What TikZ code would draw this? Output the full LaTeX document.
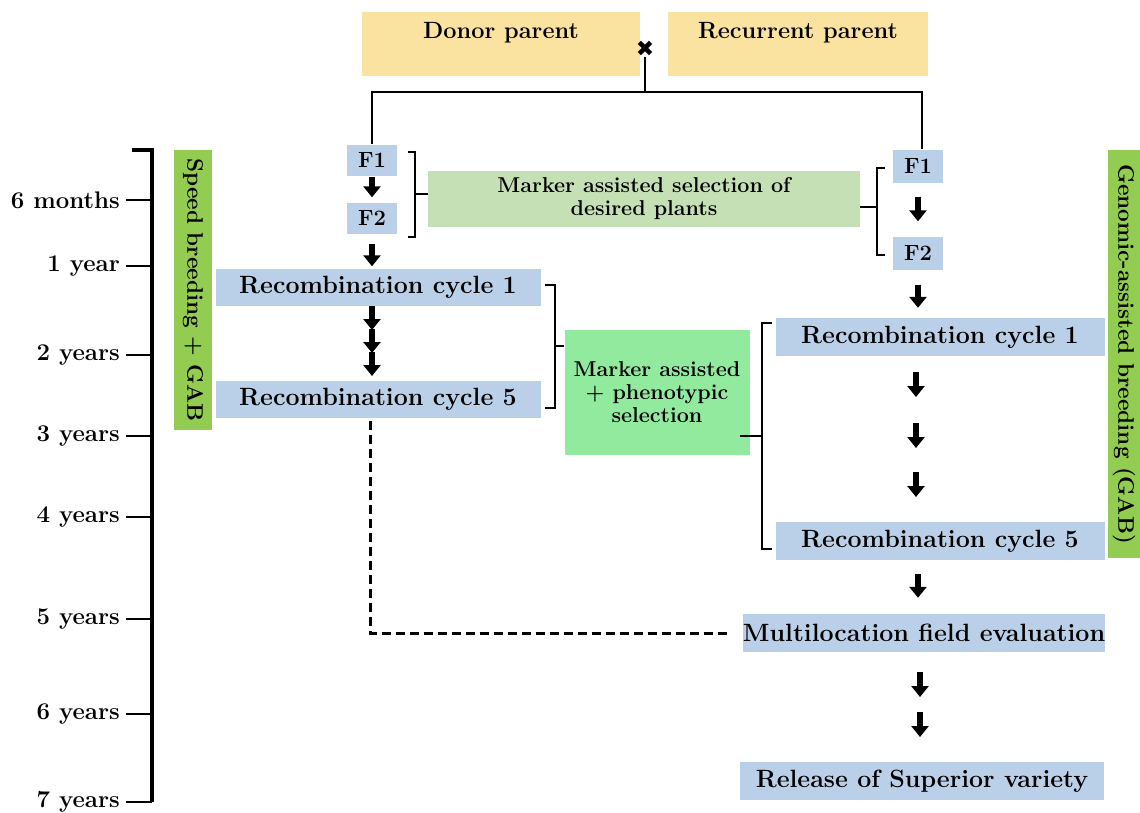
\documentclass[tikz,border=0pt]{standalone}
\usepackage{fontspec}
\usepackage{amsmath, amssymb, bm}
\usepackage{tikz}
\usetikzlibrary{arrows.meta}

\newfontfamily\symbfont{DejaVu Sans}

\definecolor{stageblue}{RGB}{186,208,232}
\definecolor{parentyellow}{RGB}{250,226,160}
\definecolor{palegreen}{RGB}{197,224,180}
\definecolor{mintgreen}{RGB}{146,234,158}
\definecolor{limegreen}{RGB}{146,204,80}

\tikzset{
  stage/.style={fill=stageblue, minimum height=37pt, inner sep=0pt,
    font=\fontsize{25}{28}\selectfont\bfseries},
  gen/.style={fill=stageblue, minimum width=50pt, minimum height=31pt, inner sep=0pt,
    font=\fontsize{22}{24}\selectfont\bfseries},
  parentbox/.style={fill=parentyellow, anchor=north, minimum width=270pt, minimum height=64pt,
    inner xsep=0pt, inner ysep=5pt, text height=21pt, text depth=33pt,
    font=\fontsize{23.5}{26}\selectfont\bfseries},
  selbox/.style={align=center, inner sep=0pt, font=\fontsize{21.5}{23}\selectfont\bfseries},
  sidebox/.style={fill=limegreen, rotate=-90, inner sep=0pt,
    font=\fontsize{22.5}{26}\selectfont\bfseries},
  yearlabel/.style={anchor=east, inner sep=0pt, font=\fontsize{24}{26}\selectfont\bfseries},
  blockarrow/.style={line width=6.5pt, -{Triangle[width=17pt,length=11pt]}},
  brace/.style={line width=1.8pt},
}

\begin{document}
\begin{tikzpicture}[x=1pt, y=-1pt]
        \useasboundingbox (0,0) rectangle (1140,812);

        % parents
        \node[parentbox, minimum width=278pt] (donor) at (501,12) {Donor parent};
        \node[parentbox, minimum width=260pt] (recurrent) at (798,12) {Recurrent parent};
        \node[inner sep=0pt, font=\fontsize{22}{24}\symbfont] (cross) at (645,49) {✖};
        \coordinate (join) at (645,92);

        % timeline
        \draw[line width=4pt] (132,150) -- (152,150) -- (152,802);
        \foreach \y/\lab in {200/6 months, 266/1 year, 355/2 years, 436/3 years,
        517/4 years, 619/5 years, 714/6 years, 802/7 years}
        {
        \draw[line width=2pt] (126,\y) -- (152,\y);
        \node[yearlabel] (yr\y) at (120,\y) {\lab};
        }

        % side labels
        \node[sidebox, minimum width=280pt, minimum height=38pt] (speed) at (193,290) {Speed breeding + GAB};
        \node[sidebox, minimum width=408pt, minimum height=32pt] (gab) at (1124,354) {Genomic-assisted breeding (GAB)};

        % speed breeding side
        \node[gen] (f1l) at (372,160) {F1};
        \node[gen] (f2l) at (372,218) {F2};
        \node[stage, minimum width=325pt] (rc1l) at (378,287) {Recombination cycle 1};
        \node[stage, minimum width=325pt] (rc5l) at (378,399) {Recombination cycle 5};

        % selection boxes
        \node[selbox, fill=palegreen, minimum width=432pt, minimum height=56pt] (mas) at (644,199)
        {Marker assisted selection of\\desired plants};
        \node[selbox, fill=mintgreen, minimum width=185pt, minimum height=125pt] (mps) at (657,392)
        {Marker assisted\\+ phenotypic\\selection};

        % GAB side
        \node[gen, minimum height=33pt] (f1r) at (918,166) {F1};
        \node[gen, minimum height=33pt] (f2r) at (918,253) {F2};
        \node[stage, minimum width=329pt, minimum height=38pt] (rc1r) at (940,337) {Recombination cycle 1};
        \node[stage, minimum width=329pt, minimum height=38pt] (rc5r) at (940,541) {Recombination cycle 5};
        \node[stage, minimum width=361pt, minimum height=38pt] (mfe) at (924,633) {Multilocation field evaluation};
        \node[stage, minimum width=364pt, minimum height=38pt] (rsv) at (922,781) {Release of Superior variety};

        % cross lines
        \draw[brace] (cross.south) -- (join);
        \draw[brace] (f1l.north) |- (join) -| ([xshift=4pt]f1r.north);

        % arrows
        \draw[blockarrow, shorten <=1pt, shorten >=5pt] (f1l.south) -- (f2l.north);
        \draw[blockarrow, shorten <=10pt, shorten >=2pt] (f2l.south) -- (f2l.south |- rc1l.north);
        \foreach \y in {306,329,352}
        \draw[blockarrow] (372,\y) -- ++(0,24);
        \draw[blockarrow, shorten <=14pt, shorten >=15pt] (f1r.south) -- (f2r.north);
        \draw[blockarrow, shorten <=15pt, shorten >=10pt] (f2r.south) -- (f2r.south |- rc1r.north);
        \foreach \y in {372,423,472}
        \draw[blockarrow] (916,\y) -- ++(0,25);
        \draw[blockarrow, shorten <=14pt, shorten >=16pt] (rc5r.south -| 918,0) -- (mfe.north -| 918,0);
        \foreach \y in {672,712}
        \draw[blockarrow] (920,\y) -- ++(0,25);

        % brackets
        \draw[brace] (408,152) -| (415,237) -- (408,237);
        \draw[brace] (415,194) -- (mas.west |- 0,194);
        \draw[brace] (885,168) -| (877,255) -- (885,255);
        \draw[brace] (877,207) -- (mas.east |- 0,207);
        \draw[brace] (545,285) -| (555,408) -- (545,408);
        \draw[brace] (555,346) -- (mps.west |- 0,346);
        \draw[brace] (772,323) -| (762,549) -- (772,549);
        \draw[brace] (740,436) -- (762,436);

        % dashed link
        \draw[line width=3pt, dash pattern=on 9pt off 5pt, shorten <=3pt, shorten >=16pt]
        ([xshift=-8pt]rc5l.south) |- (mfe.west);
    \end{tikzpicture}
\end{document}
